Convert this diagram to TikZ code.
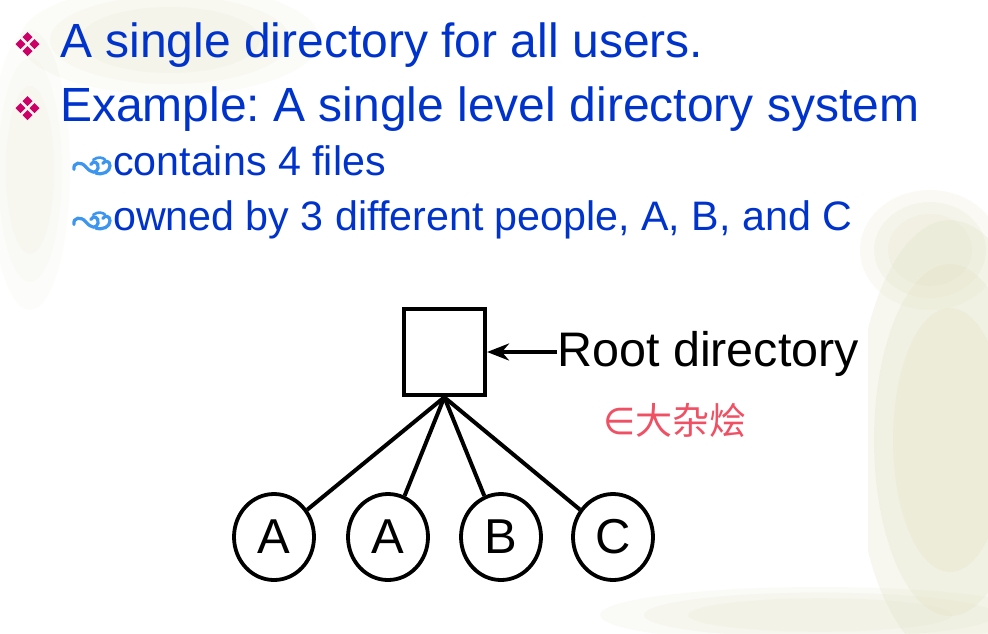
\documentclass[tikz,border=0pt]{standalone}
\usepackage{fontspec}
\setmainfont{Liberation Sans}
\newfontfamily\cjk{Noto Sans CJK SC}
\newfontfamily\djv{DejaVu Sans}
\usetikzlibrary{arrows.meta,shapes.geometric}
\definecolor{txtblue}{RGB}{0,51,204}
\definecolor{bulmag}{RGB}{204,0,102}
\definecolor{swblue}{RGB}{60,150,240}
\definecolor{beige}{RGB}{222,221,186}
\definecolor{notered}{RGB}{240,80,100}
\frenchspacing
\tikzset{
  bigtext/.style={font=\fontsize{48}{58}\selectfont, text=txtblue, inner sep=0pt, anchor=base west},
  subtext/.style={font=\fontsize{41.2}{48}\selectfont, text=txtblue, inner sep=0pt, anchor=base west},
  dirbox/.style={draw=black, line width=4.5pt, minimum width=81pt, minimum height=86pt, inner sep=0pt, fill=white},
  filenode/.style={ellipse, draw=black, line width=3.8pt, minimum width=80pt, minimum height=86pt, inner sep=0pt, font=\fontsize{49}{50}\selectfont},
  link/.style={draw=black, line width=4pt},
  pointer/.style={draw=black, line width=3.5pt, -{Stealth[length=22pt,width=17pt]}},
  blob/.style={fill=beige, opacity=#1},
  diamonds/.pic={
    \foreach \dx/\dy in {0/-7,-7/0,7/0,0/7}
      \fill[bulmag] ({\dx},{\dy-5}) -- ({\dx+5},{\dy}) -- ({\dx},{\dy+5}) -- ({\dx-5},{\dy}) -- cycle;
  },
  swirl/.pic={
    \begin{scope}[scale=1.2]
    \draw[swblue, line width=3.2pt, line cap=round]
      (-15,2) .. controls (-16,-4) and (-9,-5) .. (-5,0)
      .. controls (-1,5) and (4,6) .. (5,1)
      .. controls (6,-4) and (1,-6) .. (-1,-2);
    \draw[swblue, line width=3.2pt, line cap=round]
      (3,5) .. controls (9,7) and (15,4) .. (15,-1)
      .. controls (15,-5) and (11,-6) .. (9,-3);
    \draw[swblue, line width=2.6pt, line cap=round]
      (1,-6) .. controls (5,-9) and (9,-8) .. (11,-6);
    \end{scope}
  }
}
\begin{document}
\begin{tikzpicture}[x=1pt,y=-1pt]
\useasboundingbox (0,0) rectangle (988,633);
\fill[white] (0,0) rectangle (988,633);
% faint background texture (soft, layered)
\foreach \r in {1.0,0.8,0.6} {
  \fill[blob=0.10] (170,40) ellipse [x radius=150*\r, y radius=55*\r];
  \fill[blob=0.07] (30,170) ellipse [x radius=40*\r, y radius=140*\r];
  \fill[blob=0.22] (950,440) ellipse [x radius=95*\r, y radius=220*\r];
  \fill[blob=0.15] (930,250) ellipse [x radius=70*\r, y radius=60*\r];
  \fill[blob=0.12] (820,615) ellipse [x radius=220*\r, y radius=28*\r];
}
% white picture area
\fill[white] (190,293) rectangle (868,582);

% bullets and text
\pic at (27.5,44) {diamonds};
\node[bigtext] (t1) at (60,57) {A single directory for all users.};
\pic at (27.5,108) {diamonds};
\node[bigtext] (t2) at (60,121) {Example: A single level directory system};
\pic at (92,167) {swirl};
\node[subtext] (s1) at (113,175) {contains 4 files};
\pic at (92,222) {swirl};
\node[subtext] (s2) at (113,230) {owned by 3 different people, A, B, and C};

% diagram
\node[dirbox] (root) at (444.3,352) {};
\node[filenode] (f1) at (274,537) {A};
\node[filenode] (f2) at (388,537) {A};
\node[filenode] (f3) at (501,537) {B};
\node[filenode] (f4) at (613,537) {C};
\foreach \f in {f1,f2,f3,f4}
  \draw[link] (root.south) -- (\f);
\node[font=\fontsize{48.5}{50}\selectfont, inner sep=0pt, anchor=base west] (rootlabel) at (557,366) {Root directory};
\draw[pointer] (rootlabel.west |- root.east) -- (root.east);
\node[text=notered, font=\cjk\fontsize{37}{37}\selectfont, inner sep=0pt, anchor=base west] (note) at (603,434) {{\djv ∈}大杂烩};
\end{tikzpicture}
\end{document}
